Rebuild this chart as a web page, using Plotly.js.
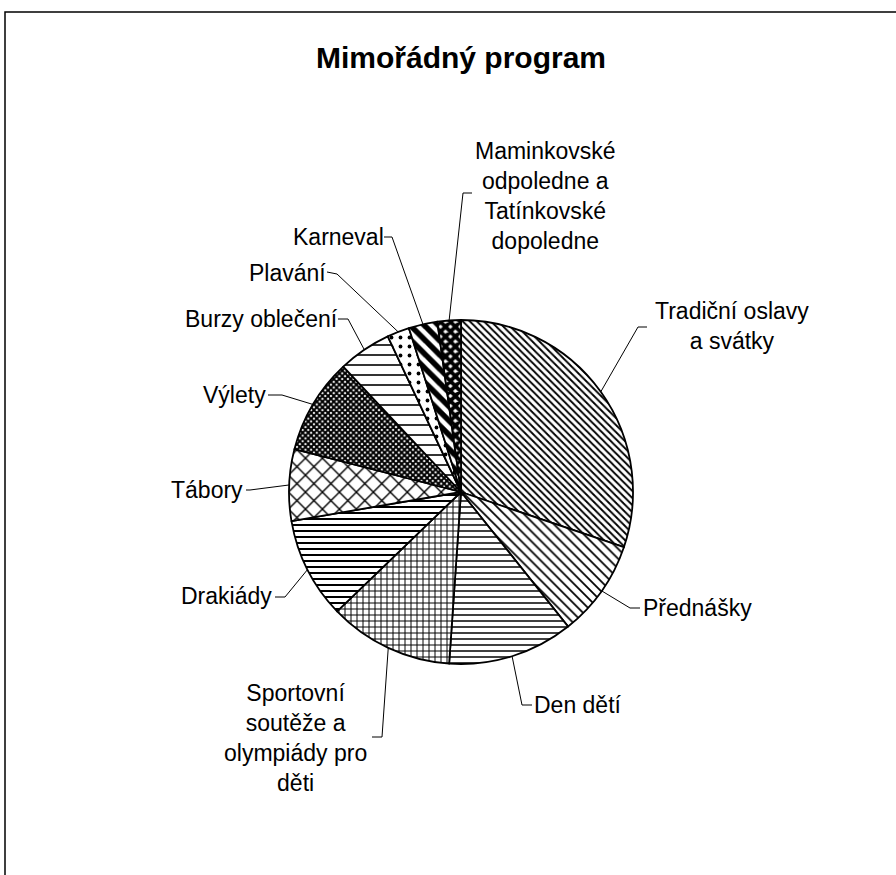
<!DOCTYPE html>
<html>
<head>
<meta charset="utf-8">
<script src="https://cdn.plot.ly/plotly-3.0.1.min.js"></script>
<style>html,body{margin:0;padding:0;background:#fff;}#chart{width:896px;height:875px;}</style>
</head>
<body>
<div id="chart"></div>
<script>
// ---- data (% of total) ----
var categories = [
  "Tradiční oslavy a svátky",
  "Přednášky",
  "Den dětí",
  "Sportovní soutěže a olympiády pro děti",
  "Drakiády",
  "Tábory",
  "Výlety",
  "Burzy oblečení",
  "Plavání",
  "Karneval",
  "Maminkovské odpoledne a Tatínkovské dopoledne"
];
var values = [30.2, 9.1, 11.8, 11.7, 9.5, 6.7, 9.0, 5.0, 2.1, 2.7, 2.2];
var labelTexts = [
  "Tradiční oslavy<br>a svátky",
  "Přednášky",
  "Den dětí",
  "Sportovní<br>soutěže a<br>olympiády pro<br>děti",
  "Drakiády",
  "Tábory",
  "Výlety",
  "Burzy oblečení",
  "Plavání",
  "Karneval",
  "Maminkovské<br>odpoledne a<br>Tatínkovské<br>dopoledne"
];

// ---- styles ----
var patShapes = ["\\", "\\", "-", "+", "-", "x", "x", "-", ".", "\\", "x"];
var patSizes  = [5, 7, 6, 6, 6, 12, 4, 10, 9, 10, 7];
var patSolid  = [0.38, 0.25, 0.25, 0.3, 0.33, 0.22, 0.75, 0.16, 0.14, 0.55, 0.8];

// ---- layout geometry (pixels) ----
var W = 896, H = 875;
var cx = 461, cy = 492, R = 172;
// label positions: [x, y, xanchor]
var labelPos = [
  [732, 326, "center"],
  [642, 608, "left"],
  [533, 705, "left"],
  [295, 738, "center"],
  [273, 596, "right"],
  [244, 490, "right"],
  [267, 395, "right"],
  [339, 319, "right"],
  [327, 273, "right"],
  [385, 237, "right"],
  [545, 196, "center"]
];
// leader start and elbow points [x0,y0,x1,y1]
var leaderPts = [
  [647, 327, 638, 327],
  [640, 608, 630, 608],
  [532, 705, 522, 705],
  [372, 737, 382, 737],
  [275, 597, 285, 597],
  [246, 490, 250, 490],
  [268, 395, 282, 395],
  [338, 319, 348, 319],
  [327, 272, 337, 274],
  [384, 237, 392, 237],
  [472, 193, 463, 193]
];

function px(x){ return x / W; }
function py(y){ return 1 - y / H; }

var total = values.reduce(function(a,b){return a+b;}, 0);
var cum = 0;
var shapes = [];
var annotations = [];
for (var i = 0; i < values.length; i++) {
  var mid = (cum + values[i] / 2) / total * 2 * Math.PI;
  cum += values[i];
  var rx = cx + R * Math.sin(mid);
  var ry = cy - R * Math.cos(mid);
  var lp = leaderPts[i];
  shapes.push({
    type: "path", xref: "paper", yref: "paper",
    path: "M " + px(lp[0]) + " " + py(lp[1]) + " L " + px(lp[2]) + " " + py(lp[3]) + " L " + px(rx) + " " + py(ry),
    line: {color: "#000", width: 1}
  });
  annotations.push({
    xref: "paper", yref: "paper",
    x: px(labelPos[i][0]), y: py(labelPos[i][1]),
    xanchor: labelPos[i][2], yanchor: "middle",
    text: labelTexts[i], showarrow: false, align: "center",
    borderpad: 0,
    font: {family: "Liberation Sans, Arial, sans-serif", size: 23, color: "#000"}
  });
}
// outer frame
shapes.push({
  type: "rect", xref: "paper", yref: "paper",
  x0: px(5), y0: py(12), x1: px(905), y1: py(885),
  line: {color: "#000", width: 1.5}, fillcolor: "rgba(0,0,0,0)"
});

var trace = {
  type: "pie",
  labels: categories,
  values: values,
  sort: false,
  direction: "clockwise",
  rotation: 0,
  textinfo: "none",
  hoverinfo: "skip",
  domain: {x: [px(cx - R), px(cx + R)], y: [py(cy + R), py(cy - R)]},
  marker: {
    colors: categories.map(function(){return "#fff";}),
    line: {color: "#000", width: 1.8},
    pattern: {
      shape: patShapes,
      size: patSizes,
      solidity: patSolid,
      fgcolor: "#000",
      fgopacity: 1,
      bgcolor: "#fff",
      fillmode: "overlay"
    }
  }
};

var layout = {
  width: W, height: H,
  margin: {l: 0, r: 0, t: 0, b: 0},
  paper_bgcolor: "#fff",
  showlegend: false,
  hovermode: false,
  title: {
    text: "<b>Mimořádný program</b>",
    x: px(461), xanchor: "center",
    y: py(57), yanchor: "middle",
    font: {family: "Liberation Sans, Arial, sans-serif", size: 30, color: "#000"}
  },
  shapes: shapes,
  annotations: annotations
};

Plotly.newPlot("chart", [trace], layout, {staticPlot: true});
</script>
</body>
</html>
